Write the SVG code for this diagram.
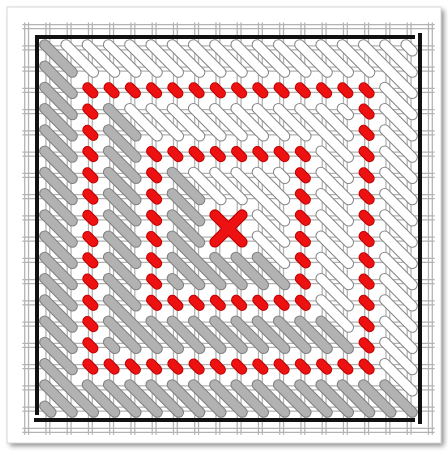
<svg xmlns="http://www.w3.org/2000/svg" width="448" height="451" viewBox="0 0 448 451">
<style>
.o{fill:none;stroke-linecap:round}
.gO{stroke:#808080;stroke-width:.52}
.gF{stroke:#b2b2b2;stroke-width:.42}
.wO{stroke:#888;stroke-width:.52}
.wF{stroke:#fff;stroke-width:.42}
.rO{stroke:#bb0000;stroke-width:.48}
.rF{stroke:#ee1111;stroke-width:.38}
.xO{stroke:#bb0000;stroke-width:.52}
.xF{stroke:#ee1111;stroke-width:.42}
.grid{fill:none;stroke:#b3b3b3;stroke-width:.06}
.frame{fill:none;stroke:#111;stroke-width:4;stroke-linecap:square}
</style>
<defs>
<filter id="sh" x="-5%" y="-5%" width="110%" height="110%"><feGaussianBlur stdDeviation="2.5"/></filter>
<path id="gray" d="M-8.65-8.65l1.3 1.3M7.35 7.35l1.3 1.3
M-8.65-7.65l1.3 1.3M-8.65-6.65l1.3 1.3M-8.65-5.65l1.3 1.3M-8.65-4.65l1.3 1.3M-8.65-3.65l1.3 1.3M-8.65-2.65l1.3 1.3M-8.65-1.65l1.3 1.3M-8.65-.65l1.3 1.3M-8.65 .35l1.3 1.3M-8.65 1.35l1.3 1.3M-8.65 2.35l1.3 1.3M-8.65 3.35l1.3 1.3M-8.65 4.35l1.3 1.3M-8.65 5.35l1.3 1.3
M6.35 7.35l1.3 1.3M5.35 7.35l1.3 1.3M4.35 7.35l1.3 1.3M3.35 7.35l1.3 1.3M2.35 7.35l1.3 1.3M1.35 7.35l1.3 1.3M.35 7.35l1.3 1.3M-.65 7.35l1.3 1.3M-1.65 7.35l1.3 1.3M-2.65 7.35l1.3 1.3M-3.65 7.35l1.3 1.3M-4.65 7.35l1.3 1.3M-5.65 7.35l1.3 1.3M-6.65 7.35l1.3 1.3
M-8.65 6.35l2.3 2.3M-8.65 7.35l1.3 1.3M-8.65 8.35l.3 .3
M-5.65-5.65l1.3 1.3M4.35 4.35l1.3 1.3
M-5.65-4.65l1.3 1.3M-5.65-3.65l1.3 1.3M-5.65-2.65l1.3 1.3M-5.65-1.65l1.3 1.3M-5.65-.65l1.3 1.3M-5.65 .35l1.3 1.3M-5.65 1.35l1.3 1.3M-5.65 2.35l1.3 1.3
M3.35 4.35l1.3 1.3M2.35 4.35l1.3 1.3M1.35 4.35l1.3 1.3M.35 4.35l1.3 1.3M-.65 4.35l1.3 1.3M-1.65 4.35l1.3 1.3M-2.65 4.35l1.3 1.3M-3.65 4.35l1.3 1.3
M-5.65 3.35l2.3 2.3M-5.65 4.35l1.3 1.3M-5.65 5.35l.3 .3
M-2.65-2.65l1.3 1.3M1.35 1.35l1.3 1.3M-2.65-1.65l1.3 1.3M.35 1.35l1.3 1.3M-2.65-.65l1.3 1.3M-.65 1.35l1.3 1.3M-2.65 .35l2.3 2.3M-2.65 1.35l1.3 1.3M-2.65 2.35l.3 .3"/>
<path id="white" d="M-7.65-8.65l1.3 1.3M-6.65-8.65l1.3 1.3M-5.65-8.65l1.3 1.3M-4.65-8.65l1.3 1.3M-3.65-8.65l1.3 1.3M-2.65-8.65l1.3 1.3M-1.65-8.65l1.3 1.3M-.65-8.65l1.3 1.3M.35-8.65l1.3 1.3M1.35-8.65l1.3 1.3M2.35-8.65l1.3 1.3M3.35-8.65l1.3 1.3M4.35-8.65l1.3 1.3M5.35-8.65l1.3 1.3
M7.35 6.35l1.3 1.3M7.35 5.35l1.3 1.3M7.35 4.35l1.3 1.3M7.35 3.35l1.3 1.3M7.35 2.35l1.3 1.3M7.35 1.35l1.3 1.3M7.35 .35l1.3 1.3M7.35-.65l1.3 1.3M7.35-1.65l1.3 1.3M7.35-2.65l1.3 1.3M7.35-3.65l1.3 1.3M7.35-4.65l1.3 1.3M7.35-5.65l1.3 1.3M7.35-6.65l1.3 1.3
M6.35-8.65l2.3 2.3M7.35-8.65l1.3 1.3M8.35-8.65l.3 .3
M-4.65-5.65l1.3 1.3M-3.65-5.65l1.3 1.3M-2.65-5.65l1.3 1.3M-1.65-5.65l1.3 1.3M-.65-5.65l1.3 1.3M.35-5.65l1.3 1.3M1.35-5.65l1.3 1.3M2.35-5.65l1.3 1.3
M4.35 3.35l1.3 1.3M4.35 2.35l1.3 1.3M4.35 1.35l1.3 1.3M4.35 .35l1.3 1.3M4.35-.65l1.3 1.3M4.35-1.65l1.3 1.3M4.35-2.65l1.3 1.3M4.35-3.65l1.3 1.3
M3.35-5.65l2.3 2.3M4.35-5.65l1.3 1.3M5.35-5.65l.3 .3
M-1.65-2.65l1.3 1.3M1.35 .35l1.3 1.3M-.65-2.65l1.3 1.3M1.35-.65l1.3 1.3M.35-2.65l2.3 2.3M1.35-2.65l1.3 1.3M2.35-2.65l.3 .3"/>
<path id="red" d="M-6.64-6.64l.28 .28M-5.64-6.64l.28 .28M-4.64-6.64l.28 .28M-3.64-6.64l.28 .28M-2.64-6.64l.28 .28M-1.64-6.64l.28 .28M-.64-6.64l.28 .28M.36-6.64l.28 .28M1.36-6.64l.28 .28M2.36-6.64l.28 .28M3.36-6.64l.28 .28M4.36-6.64l.28 .28M5.36-6.64l.28 .28M6.36-6.64l.28 .28
M-6.64 6.36l.28 .28M-5.64 6.36l.28 .28M-4.64 6.36l.28 .28M-3.64 6.36l.28 .28M-2.64 6.36l.28 .28M-1.64 6.36l.28 .28M-.64 6.36l.28 .28M.36 6.36l.28 .28M1.36 6.36l.28 .28M2.36 6.36l.28 .28M3.36 6.36l.28 .28M4.36 6.36l.28 .28M5.36 6.36l.28 .28M6.36 6.36l.28 .28
M-6.64-5.64l.28 .28M-6.64-4.64l.28 .28M-6.64-3.64l.28 .28M-6.64-2.64l.28 .28M-6.64-1.64l.28 .28M-6.64-.64l.28 .28M-6.64 .36l.28 .28M-6.64 1.36l.28 .28M-6.64 2.36l.28 .28M-6.64 3.36l.28 .28M-6.64 4.36l.28 .28M-6.64 5.36l.28 .28
M6.36-5.64l.28 .28M6.36-4.64l.28 .28M6.36-3.64l.28 .28M6.36-2.64l.28 .28M6.36-1.64l.28 .28M6.36-.64l.28 .28M6.36 .36l.28 .28M6.36 1.36l.28 .28M6.36 2.36l.28 .28M6.36 3.36l.28 .28M6.36 4.36l.28 .28M6.36 5.36l.28 .28
M-3.64-3.64l.28 .28M-2.64-3.64l.28 .28M-1.64-3.64l.28 .28M-.64-3.64l.28 .28M.36-3.64l.28 .28M1.36-3.64l.28 .28M2.36-3.64l.28 .28M3.36-3.64l.28 .28
M-3.64 3.36l.28 .28M-2.64 3.36l.28 .28M-1.64 3.36l.28 .28M-.64 3.36l.28 .28M.36 3.36l.28 .28M1.36 3.36l.28 .28M2.36 3.36l.28 .28M3.36 3.36l.28 .28
M-3.64-2.64l.28 .28M-3.64-1.64l.28 .28M-3.64-.64l.28 .28M-3.64 .36l.28 .28M-3.64 1.36l.28 .28M-3.64 2.36l.28 .28
M3.36-2.64l.28 .28M3.36-1.64l.28 .28M3.36-.64l.28 .28M3.36 .36l.28 .28M3.36 1.36l.28 .28M3.36 2.36l.28 .28"/>
<path id="cross" d="M-.64-.64L.64 .64M-.64 .64L.64-.64"/>
</defs>
<rect width="448" height="451" fill="#fff"/>
<rect x="10" y="10" width="434" height="436" fill="#8f8f8f" filter="url(#sh)"/>
<rect x="7" y="7" width="434" height="436" fill="#fff" stroke="#d8d8d8"/>
<g id="canvas" transform="translate(228.5 228.5) scale(21.25)">
<path class="grid" d="M-9.59-9.7V9.7M-9.41-9.7V9.7M-8.59-9.7V9.7M-8.41-9.7V9.7M-7.59-9.7V9.7M-7.41-9.7V9.7M-6.59-9.7V9.7M-6.41-9.7V9.7M-5.59-9.7V9.7M-5.41-9.7V9.7M-4.59-9.7V9.7M-4.41-9.7V9.7M-3.59-9.7V9.7M-3.41-9.7V9.7M-2.59-9.7V9.7M-2.41-9.7V9.7M-1.59-9.7V9.7M-1.41-9.7V9.7M-.59-9.7V9.7M-.41-9.7V9.7M.41-9.7V9.7M.59-9.7V9.7M1.41-9.7V9.7M1.59-9.7V9.7M2.41-9.7V9.7M2.59-9.7V9.7M3.41-9.7V9.7M3.59-9.7V9.7M4.41-9.7V9.7M4.59-9.7V9.7M5.41-9.7V9.7M5.59-9.7V9.7M6.41-9.7V9.7M6.59-9.7V9.7M7.41-9.7V9.7M7.59-9.7V9.7M8.41-9.7V9.7M8.59-9.7V9.7M9.41-9.7V9.7M9.59-9.7V9.7
M-9.7-9.59H9.7M-9.7-9.41H9.7M-9.7-8.59H9.7M-9.7-8.41H9.7M-9.7-7.59H9.7M-9.7-7.41H9.7M-9.7-6.59H9.7M-9.7-6.41H9.7M-9.7-5.59H9.7M-9.7-5.41H9.7M-9.7-4.59H9.7M-9.7-4.41H9.7M-9.7-3.59H9.7M-9.7-3.41H9.7M-9.7-2.59H9.7M-9.7-2.41H9.7M-9.7-1.59H9.7M-9.7-1.41H9.7M-9.7-.59H9.7M-9.7-.41H9.7M-9.7 .41H9.7M-9.7 .59H9.7M-9.7 1.41H9.7M-9.7 1.59H9.7M-9.7 2.41H9.7M-9.7 2.59H9.7M-9.7 3.41H9.7M-9.7 3.59H9.7M-9.7 4.41H9.7M-9.7 4.59H9.7M-9.7 5.41H9.7M-9.7 5.59H9.7M-9.7 6.41H9.7M-9.7 6.59H9.7M-9.7 7.41H9.7M-9.7 7.59H9.7M-9.7 8.41H9.7M-9.7 8.59H9.7M-9.7 9.41H9.7M-9.7 9.59H9.7"/>
<g id="gray-stitches"><use href="#gray" class="o gO"/><use href="#gray" class="o gF"/></g>
<g id="white-stitches"><use href="#white" class="o wO"/><use href="#white" class="o wF"/></g>
<g id="tent-rings"><use href="#red" class="o rO"/><use href="#red" class="o rF"/></g>
<g id="center-cross"><use href="#cross" class="o xO"/><use href="#cross" class="o xF"/></g>
</g>
<path id="frame" class="frame" d="M37 37H413M37 37V413M36 420H413M420 35V422"/>
</svg>
